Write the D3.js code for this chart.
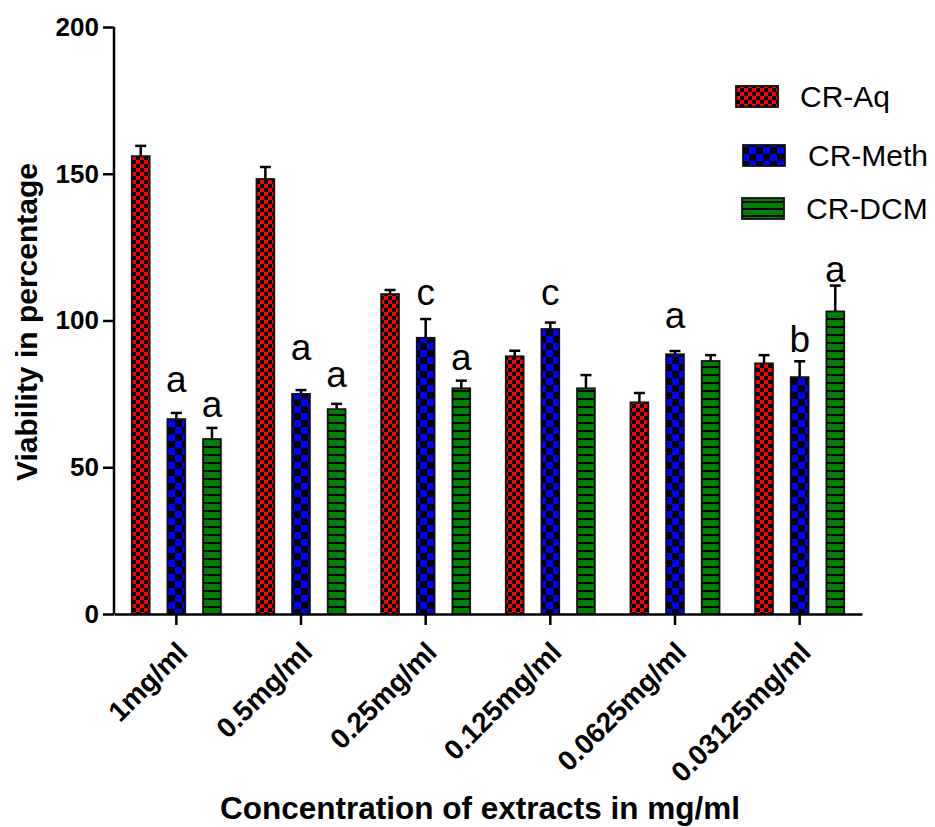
<!DOCTYPE html>
<html>
<head>
<meta charset="utf-8">
<script src="https://cdn.jsdelivr.net/npm/d3@7"></script>
<style>
  html, body { margin: 0; padding: 0; background: #fff; }
  svg { display: block; font-family: "Liberation Sans", Arial, sans-serif; }
</style>
</head>
<body>
<svg id="chart" width="935" height="827"></svg>
<script>
// ---- data ----
const categories = ["1mg/ml", "0.5mg/ml", "0.25mg/ml", "0.125mg/ml", "0.0625mg/ml", "0.03125mg/ml"];
const seriesNames = ["CR-Aq", "CR-Meth", "CR-DCM"];
const aqValues   = [156.0, 148.2, 109.0, 87.8, 72.1, 85.4];
const aqErrors   = [3.5, 4.1, 1.4, 1.9, 3.2, 2.8];
const methValues = [66.4, 75.0, 94.1, 97.1, 88.5, 80.7];
const methErrors = [2.1, 1.3, 6.4, 2.2, 1.1, 5.4];
const dcmValues  = [59.6, 69.8, 76.9, 76.9, 86.2, 103.1];
const dcmErrors  = [3.8, 1.8, 2.6, 4.5, 2.0, 8.8];
const yTicks = [0, 50, 100, 150, 200];
// significance letters: category index, series index, letter, baseline value
const annotCat    = [0, 0, 1, 1, 2, 2, 3, 4, 5, 5];
const annotSeries = [1, 2, 1, 2, 1, 2, 1, 1, 1, 2];
const annotText   = ["a", "a", "a", "a", "c", "a", "c", "a", "b", "a"];
const annotValue  = [75.6, 67.1, 86.5, 77.3, 105.3, 83.1, 105.3, 97.4, 89.3, 113.1];

const seriesValues = [aqValues, methValues, dcmValues];
const seriesErrors = [aqErrors, methErrors, dcmErrors];

// ---- layout ----
const svg = d3.select("#chart");
const mLeft = 114, mRight = 862, mTop = 27, mBottom = 614;
const fills = ["url(#pAq)", "url(#pMeth)", "url(#pDcm)"];

// patterns
const defs = svg.append("defs");
const pAq = defs.append("pattern").attr("id", "pAq").attr("patternUnits", "userSpaceOnUse")
  .attr("width", 8).attr("height", 8);
pAq.append("rect").attr("width", 8).attr("height", 8).attr("fill", "#000");
pAq.append("rect").attr("x", 0).attr("y", 0).attr("width", 4).attr("height", 4).attr("fill", "#ff0000");
pAq.append("rect").attr("x", 4).attr("y", 4).attr("width", 4).attr("height", 4).attr("fill", "#ff0000");

const pMeth = defs.append("pattern").attr("id", "pMeth").attr("patternUnits", "userSpaceOnUse")
  .attr("width", 14).attr("height", 14);
pMeth.append("rect").attr("width", 14).attr("height", 14).attr("fill", "#000");
pMeth.append("rect").attr("x", 0).attr("y", 0).attr("width", 7).attr("height", 7).attr("fill", "#0000ff");
pMeth.append("rect").attr("x", 7).attr("y", 7).attr("width", 7).attr("height", 7).attr("fill", "#0000ff");

const pDcm = defs.append("pattern").attr("id", "pDcm").attr("patternUnits", "userSpaceOnUse")
  .attr("width", 8).attr("height", 8);
pDcm.append("rect").attr("width", 8).attr("height", 8).attr("fill", "#008000");
pDcm.append("rect").attr("x", 0).attr("y", 6).attr("width", 8).attr("height", 2).attr("fill", "#000");

const pDcmL = defs.append("pattern").attr("id", "pDcmL").attr("patternUnits", "userSpaceOnUse")
  .attr("width", 7).attr("height", 7);
pDcmL.append("rect").attr("width", 7).attr("height", 7).attr("fill", "#008000");
pDcmL.append("rect").attr("x", 0).attr("y", 5).attr("width", 7).attr("height", 2).attr("fill", "#000");

// scales
const x0 = d3.scaleBand().domain(categories).range([mLeft, mRight]).padding(0);
const x1 = d3.scaleBand().domain(d3.range(seriesNames.length)).range([0, x0.bandwidth()])
  .paddingInner(0.5).paddingOuter(0.5);
const y = d3.scaleLinear().domain([0, 200]).range([mBottom, mTop]);

// bars
const g = svg.append("g");
categories.forEach((c, ci) => {
  seriesNames.forEach((s, si) => {
    const v = seriesValues[si][ci], e = seriesErrors[si][ci];
    const bx = x0(c) + x1(si), bw = x1.bandwidth();
    const cx = bx + bw / 2;
    g.append("line").attr("x1", cx).attr("x2", cx).attr("y1", y(v)).attr("y2", y(v + e))
      .attr("stroke", "#000").attr("stroke-width", 2.5);
    g.append("line").attr("x1", cx - 5.5).attr("x2", cx + 5.5).attr("y1", y(v + e)).attr("y2", y(v + e))
      .attr("stroke", "#000").attr("stroke-width", 2.5);
    g.append("rect").attr("x", bx).attr("y", y(v)).attr("width", bw).attr("height", y(0) - y(v))
      .attr("fill", fills[si]).attr("stroke", "#111").attr("stroke-width", 1.8);
  });
});

// annotations
annotText.forEach((t, i) => {
  const c = categories[annotCat[i]];
  const cx = x0(c) + x1(annotSeries[i]) + x1.bandwidth() / 2;
  svg.append("text").attr("x", cx).attr("y", y(annotValue[i])).attr("text-anchor", "middle")
    .attr("font-size", 37).attr("fill", "#000").text(t);
});

// y axis
const yAxis = d3.axisLeft(y).tickValues(yTicks).tickSize(11).tickPadding(4).tickFormat(d3.format("d"));
const ya = svg.append("g").attr("transform", `translate(${mLeft},0)`).call(yAxis);
ya.select(".domain").attr("stroke", "#000").attr("stroke-width", 2.5)
  .attr("d", `M0,${mTop}V${mBottom}`);
ya.selectAll(".tick line").attr("stroke", "#000").attr("stroke-width", 2.5);
ya.selectAll(".tick text").attr("font-size", 26).attr("font-weight", "bold").attr("fill", "#000")
  .attr("font-family", "Liberation Sans, Arial, sans-serif");

// x axis
const xAxis = d3.axisBottom(x0).tickSize(11).tickSizeOuter(0);
const xa = svg.append("g").attr("transform", `translate(0,${mBottom})`).call(xAxis);
xa.select(".domain").attr("stroke", "#000").attr("stroke-width", 2.5);
xa.selectAll(".tick line").attr("stroke", "#000").attr("stroke-width", 2.5);
xa.selectAll(".tick text")
  .attr("font-size", 28).attr("font-weight", "bold").attr("fill", "#000")
  .attr("font-family", "Liberation Sans, Arial, sans-serif")
  .attr("text-anchor", "end").attr("dy", "0.35em")
  .attr("transform", "translate(6,33) rotate(-45)")
  .attr("x", 0).attr("y", 0);

// axis titles
svg.append("text").attr("transform", `translate(37,322) rotate(-90)`).attr("text-anchor", "middle")
  .attr("font-size", 30).attr("font-weight", "bold").attr("fill", "#000").text("Viability in percentage");
svg.append("text").attr("x", 480).attr("y", 819).attr("text-anchor", "middle")
  .attr("font-size", 31.5).attr("font-weight", "bold").attr("fill", "#000").text("Concentration of extracts in mg/ml");

// legend
const legSwX = [736, 743, 742];
const legTxX = [800, 808, 806];
const legBase = [107, 166, 219];
const legFill = ["url(#pAq)", "url(#pMeth)", "url(#pDcmL)"];
seriesNames.forEach((s, i) => {
  svg.append("rect").attr("x", legSwX[i]).attr("y", legBase[i] - 21).attr("width", 42).attr("height", 21)
    .attr("fill", legFill[i]).attr("stroke", "#111").attr("stroke-width", 1.8);
  svg.append("text").attr("x", legTxX[i]).attr("y", legBase[i]).attr("font-size", 30)
    .attr("fill", "#000").text(s);
});
</script>
</body>
</html>
